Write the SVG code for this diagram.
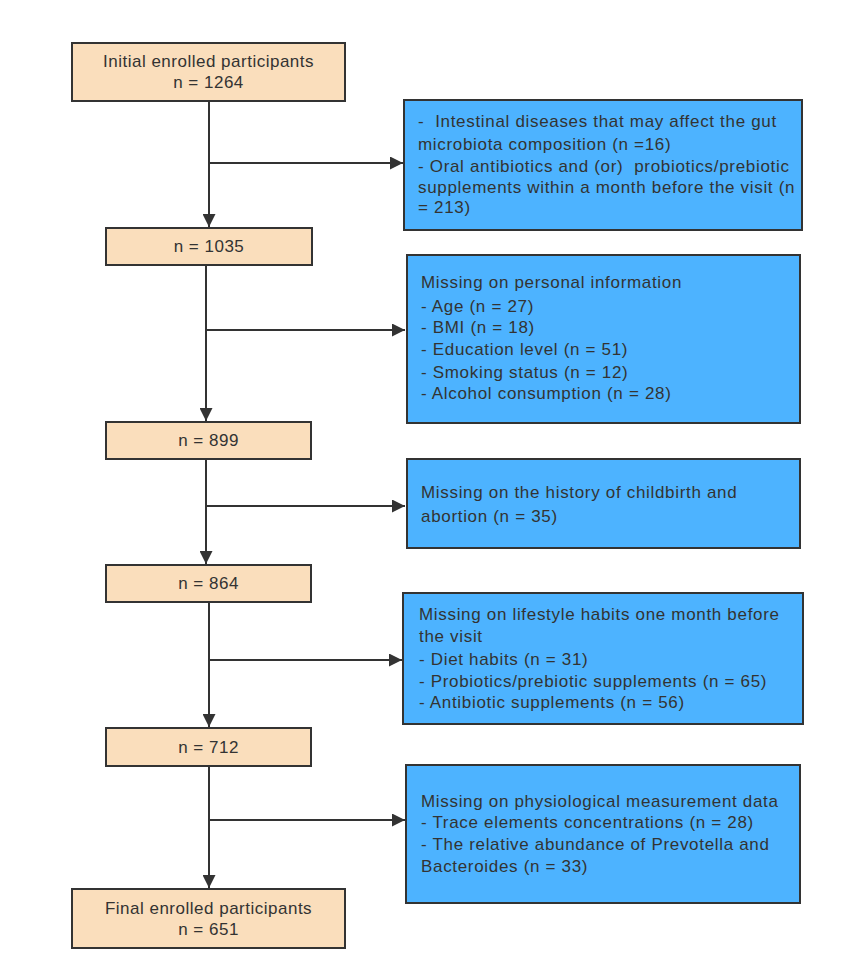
<svg xmlns="http://www.w3.org/2000/svg" width="843" height="980" viewBox="0 0 843 980">
<defs>
<marker id="arr" viewBox="0 0 10 10" refX="10" refY="5" markerWidth="7" markerHeight="6.5" markerUnits="strokeWidth" orient="auto">
<path d="M0,0 L10,5 L0,10 z" fill="#333"/>
</marker>
<style>
.o{fill:#FADEBC;stroke:#333;stroke-width:2}
.b{fill:#4DB3FF;stroke:#333;stroke-width:2}
text{font-family:"Liberation Sans",Arial,sans-serif;font-size:17px;fill:#333;white-space:pre}
.c{text-anchor:middle;letter-spacing:0.5px}
.t{letter-spacing:0.68px}
.ln{stroke:#333;stroke-width:2;fill:none}
</style>
</defs>
<rect width="843" height="980" fill="#fff"/>
<g id="connectors">
<line class="ln" x1="209" y1="101" x2="209" y2="227" marker-end="url(#arr)"/>
<line class="ln" x1="209" y1="163" x2="403" y2="163" marker-end="url(#arr)"/>
<line class="ln" x1="206" y1="265" x2="206" y2="421" marker-end="url(#arr)"/>
<line class="ln" x1="206" y1="330" x2="405" y2="330" marker-end="url(#arr)"/>
<line class="ln" x1="206" y1="459" x2="206" y2="564" marker-end="url(#arr)"/>
<line class="ln" x1="206" y1="506" x2="405" y2="506" marker-end="url(#arr)"/>
<line class="ln" x1="209" y1="602" x2="209" y2="727" marker-end="url(#arr)"/>
<line class="ln" x1="209" y1="660" x2="402" y2="660" marker-end="url(#arr)"/>
<line class="ln" x1="209" y1="766" x2="209" y2="888" marker-end="url(#arr)"/>
<line class="ln" x1="209" y1="820" x2="405" y2="820" marker-end="url(#arr)"/>
</g>
<g id="n1264">
<rect class="o" x="72" y="43" width="273" height="58"/>
<text class="c" x="208.5" y="67">Initial enrolled participants</text>
<text class="c" x="208.5" y="88">n = 1264</text>
</g>
<g id="n1035">
<rect class="o" x="106" y="228" width="206" height="37"/>
<text class="c" x="209" y="252">n = 1035</text>
</g>
<g id="n899">
<rect class="o" x="106" y="422" width="205" height="37"/>
<text class="c" x="208.5" y="446">n = 899</text>
</g>
<g id="n864">
<rect class="o" x="106" y="565" width="205" height="37"/>
<text class="c" x="208.5" y="589">n = 864</text>
</g>
<g id="n712">
<rect class="o" x="106" y="728" width="205" height="38"/>
<text class="c" x="208.5" y="753">n = 712</text>
</g>
<g id="n651">
<rect class="o" x="72" y="889" width="273" height="59"/>
<text class="c" x="208.5" y="914">Final enrolled participants</text>
<text class="c" x="208.5" y="935">n = 651</text>
</g>
<g id="ex1">
<rect class="b" x="404" y="100" width="398" height="130"/>
<text class="t" x="418" y="127">-  Intestinal diseases that may affect the gut</text>
<text class="t" x="418" y="150">microbiota composition (n =16)</text>
<text class="t" x="418" y="172">- Oral antibiotics and (or)  probiotics/prebiotic</text>
<text class="t" x="418" y="193">supplements within a month before the visit (n</text>
<text class="t" x="418" y="213">= 213)</text>
</g>
<g id="ex2">
<rect class="b" x="407" y="255" width="393" height="168"/>
<text class="t" x="421" y="288">Missing on personal information</text>
<text class="t" x="421" y="312">- Age (n = 27)</text>
<text class="t" x="421" y="333">- BMI (n = 18)</text>
<text class="t" x="421" y="355">- Education level (n = 51)</text>
<text class="t" x="421" y="378">- Smoking status (n = 12)</text>
<text class="t" x="421" y="399">- Alcohol consumption (n = 28)</text>
</g>
<g id="ex3">
<rect class="b" x="407" y="459" width="393" height="89"/>
<text class="t" x="421" y="498">Missing on the history of childbirth and</text>
<text class="t" x="421" y="522">abortion (n = 35)</text>
</g>
<g id="ex4">
<rect class="b" x="403" y="593" width="400" height="131"/>
<text class="t" x="419" y="620">Missing on lifestyle habits one month before</text>
<text class="t" x="419" y="642">the visit</text>
<text class="t" x="419" y="665">- Diet habits (n = 31)</text>
<text class="t" x="419" y="687">- Probiotics/prebiotic supplements (n = 65)</text>
<text class="t" x="419" y="708">- Antibiotic supplements (n = 56)</text>
</g>
<g id="ex5">
<rect class="b" x="406" y="765" width="394" height="138"/>
<text class="t" x="421" y="807">Missing on physiological measurement data</text>
<text class="t" x="421" y="828">- Trace elements concentrations (n = 28)</text>
<text class="t" x="421" y="850">- The relative abundance of Prevotella and</text>
<text class="t" x="421" y="872">Bacteroides (n = 33)</text>
</g>
</svg>
